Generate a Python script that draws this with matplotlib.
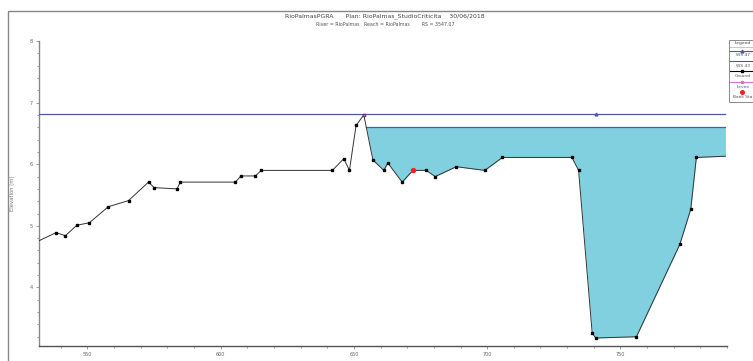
"""
Cross section plot RioPalmas RS 3547.07 (HEC-RAS style).
"""

import matplotlib

matplotlib.use("Agg")
import matplotlib.pyplot as plt
import numpy as np
from matplotlib.lines import Line2D
from matplotlib.patches import Rectangle
from matplotlib.ticker import MultipleLocator

# Data
ground_sta = [528.0, 538.2, 541.7, 546.0, 550.7, 557.8, 565.4, 572.9, 575.0, 583.6,
              584.8, 605.5, 607.6, 613.0, 615.2, 641.9, 646.2, 648.3, 650.8, 653.7,
              657.1, 661.2, 662.7, 668.1, 672.1, 677.1, 680.5, 688.4, 699.1, 705.7,
              731.8, 734.3, 739.4, 740.7, 756.0, 772.3, 776.4, 778.5, 789.4]
ground_elev = [4.68, 4.89, 4.84, 5.01, 5.05, 5.31, 5.41, 5.71, 5.62, 5.60,
               5.71, 5.71, 5.81, 5.81, 5.90, 5.90, 6.09, 5.90, 6.63, 6.80,
               6.07, 5.90, 6.02, 5.71, 5.90, 5.90, 5.80, 5.96, 5.90, 6.11,
               6.11, 5.90, 3.26, 3.18, 3.20, 4.70, 5.27, 6.11, 6.13]
ws47_elev = 6.82
ws43_elev = 6.60
levee_sta, levee_elev = 653.7, 6.80
bank_sta, bank_elev = [672.1], [5.90]

title = "RioPalmasPGRA      Plan: RioPalmas_StudioCriticita    30/06/2018"
subtitle = "River = RioPalmas   Reach = RioPalmas        RS = 3547.07"
legend_labels = ["WS 47", "WS 43", "Ground", "Levee", "Bank Sta"]

WS_COLOR = "#4a5aa8"
FILL_COLOR = "#80d0e0"
LEVEE_COLOR = "#e070d0"

W, H = 753, 361
fig = plt.figure(figsize=(W / 100, H / 100), dpi=100)
ax = fig.add_axes([39 / W, 1 - 346 / H, (727 - 39) / W, (346 - 41) / H])

st = np.asarray(ground_sta)
gz = np.asarray(ground_elev)

# WS 43 fill right of the levee
i_lev = int(np.argmin(np.abs(st - levee_sta)))
x_cross = np.interp(ws43_elev, [gz[i_lev + 1], gz[i_lev]], [st[i_lev + 1], st[i_lev]])
mask = (st >= levee_sta) & (gz <= ws43_elev)
ax.fill_between(st, gz, ws43_elev, where=mask, interpolate=True,
                color=FILL_COLOR, linewidth=0, zorder=1)
ax.plot([x_cross, st[-1]], [ws43_elev, ws43_elev], color=WS_COLOR, lw=0.9, zorder=3)

# WS 47 line
ax.plot([st[0], st[-1]], [ws47_elev, ws47_elev], color=WS_COLOR, lw=0.9, zorder=3)
ax.plot([st[np.argmin(gz)]], [ws47_elev], marker="^", ms=2.0, color=WS_COLOR,
        lw=0, zorder=4)

# Ground
ax.plot(st, gz, color="#333333", lw=0.7, zorder=4)
ax.plot(st[1:-1], gz[1:-1], ls="none", marker="s", ms=1.5, color="black", zorder=5)
ax.plot([levee_sta], [levee_elev], ls="none", marker="s", ms=2.0,
        color=LEVEE_COLOR, mec="#a040a0", mew=0.4, zorder=6)
ax.plot(bank_sta, bank_elev, ls="none", marker="o", ms=2.8, color="#ff2020", zorder=6)

ax.set_xlim(531.8, 790)
ax.set_ylim(3.05, 8.0)
ax.xaxis.set_major_locator(MultipleLocator(50))
ax.xaxis.set_minor_locator(MultipleLocator(10))
ax.yaxis.set_major_locator(MultipleLocator(1))
ax.yaxis.set_minor_locator(MultipleLocator(0.2))
ax.tick_params(which="both", labelsize=3.5, labelcolor="#666666", color="#777777",
               width=0.5, pad=2)
ax.tick_params(which="major", length=2.2)
ax.tick_params(which="minor", length=1.6)
for side in ("top", "right"):
    ax.spines[side].set_visible(False)
ax.spines["left"].set_color("#888888")
ax.spines["left"].set_linewidth(1.0)
ax.spines["bottom"].set_color("#555555")
ax.spines["bottom"].set_linewidth(1.0)
ax.set_ylabel("Elevation (m)", fontsize=3.8, color="#777777")
ax.yaxis.set_label_coords((15 - 39) / (727 - 39), 0.5)

fig.text(385 / W, 1 - 16 / H, title, fontsize=4.4, color="#444444",
         ha="center", va="center")
fig.text(385 / W, 1 - 24 / H, subtitle, fontsize=3.4, color="#555555",
         ha="center", va="center")

# Overlay in pixel coords for the frame and the HEC-RAS style legend
ov = fig.add_axes([0, 0, 1, 1], zorder=10)
ov.set_xlim(0, W)
ov.set_ylim(H, 0)
ov.axis("off")
ov.patch.set_alpha(0)
ov.add_patch(Rectangle((8, 11), 800, 400, fill=False, ec="#888888", lw=1.0))

lx0, lx1 = 729, 762
lxc = 743
ov.add_patch(Rectangle((lx0, 40), lx1 - lx0, 62, fc="white", ec="#777777", lw=0.6))
ov.text(lxc, 43, "Legend", fontsize=3.2, color="#444444", ha="center", va="center")
ov.add_line(Line2D([lx0, lx1], [46.5, 46.5], color="#999999", lw=0.4))
handles = [
    (WS_COLOR, "^", 2.0, True),
    (WS_COLOR, None, 0, True),
    ("black", "s", 1.6, True),
    (LEVEE_COLOR, "s", 2.0, True),
    ("#ff2020", "o", 2.6, False),
]
for k, (lab, (col, mk, ms, has_line)) in enumerate(zip(legend_labels, handles)):
    yl = 50.5 + k * 10.4
    if has_line:
        ov.add_line(Line2D([lx0 + 1, lx1], [yl, yl], lw=0.8, color=col))
    if mk:
        ov.add_line(Line2D([lxc - 1], [yl], ls="none", marker=mk, ms=ms, color=col))
    ov.text(lxc, yl + 5, lab, fontsize=3.2, color="#555555", ha="center", va="center")

fig.savefig("out.png", dpi=100)
